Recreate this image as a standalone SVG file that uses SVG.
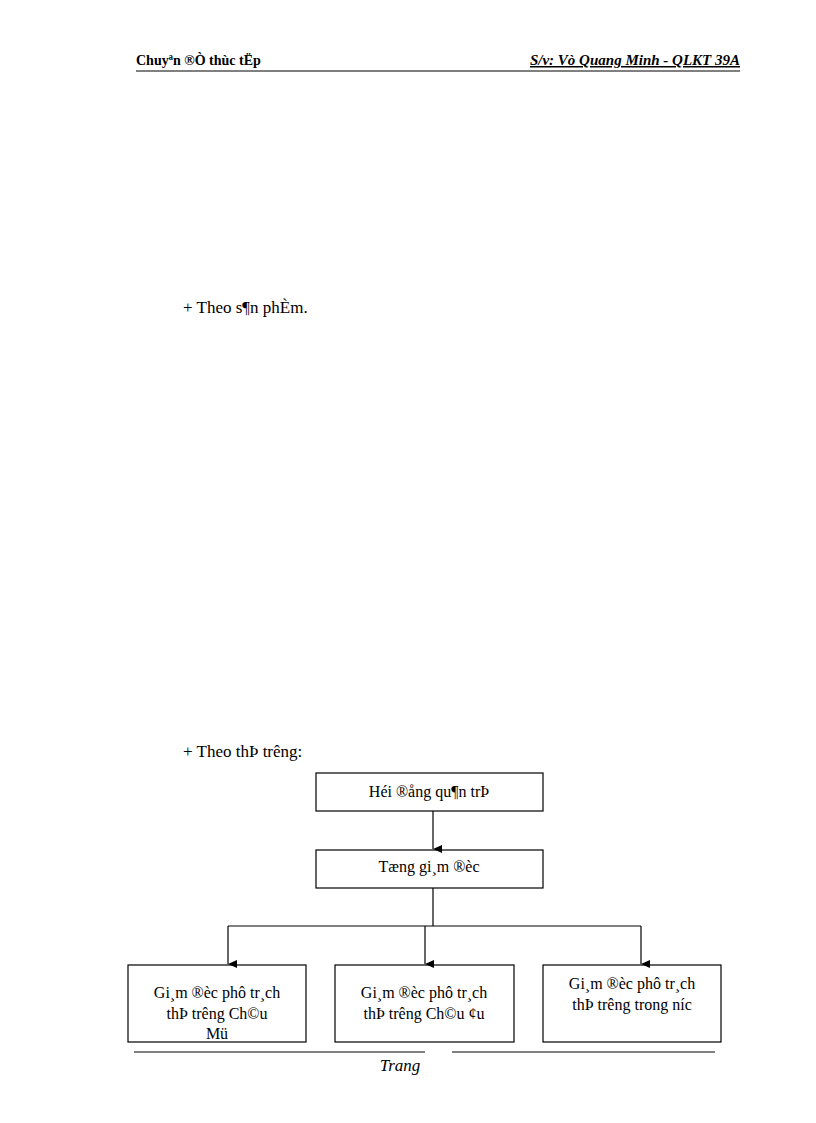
<svg xmlns="http://www.w3.org/2000/svg" width="816" height="1123" viewBox="0 0 816 1123">
<defs><marker id="a" markerWidth="8" markerHeight="10" refX="4" refY="9" orient="auto" markerUnits="userSpaceOnUse"><path d="M0,0 L8,0 L4,9 Z" fill="#000"/></marker>
<style>text{font-family:"Liberation Serif",serif;fill:#000}.b{fill:#fff;stroke:#000;stroke-width:1.2}.t{font-size:16px;text-anchor:middle}.l{stroke:#000;stroke-width:1.2;fill:none}</style></defs>
<rect width="816" height="1123" fill="#fff"/>
<text x="136" y="65" font-size="14" font-weight="bold">Chuyªn ®Ò thùc tËp</text>
<text x="740" y="65" font-size="15" font-weight="bold" font-style="italic" text-anchor="end" text-decoration="underline">S/v: Vò Quang Minh - QLKT 39A</text>
<line x1="136" y1="71" x2="740" y2="71" stroke="#000" stroke-width="1"/>
<text x="183" y="313" font-size="17">+ Theo s¶n phÈm.</text>
<text x="183" y="757" font-size="17">+ Theo thÞ tr­êng:</text>
<g id="n1"><rect class="b" x="316" y="773" width="227" height="38"/><text class="t" x="429" y="797">Héi ®ång qu¶n trÞ</text></g>
<g id="n2"><rect class="b" x="316" y="850" width="227" height="38"/><text class="t" x="429" y="872">Tæng gi¸m ®èc</text></g>
<g id="n3"><rect class="b" x="128" y="965" width="178" height="77"/><text class="t" x="217" y="998">Gi¸m ®èc phô tr¸ch</text><text class="t" x="217" y="1019">thÞ tr­êng  Ch©u</text><text class="t" x="217" y="1039">Mü</text></g>
<g id="n4"><rect class="b" x="335" y="965" width="179" height="77"/><text class="t" x="424" y="998">Gi¸m ®èc phô tr¸ch</text><text class="t" x="424" y="1019">thÞ tr­êng  Ch©u ¢u</text></g>
<g id="n5"><rect class="b" x="543" y="965" width="178" height="77"/><text class="t" x="632" y="989">Gi¸m ®èc phô tr¸ch</text><text class="t" x="632" y="1010">thÞ tr­êng  trong n­íc</text></g>
<g id="connectors">
<line class="l" x1="433" y1="811" x2="433" y2="849" marker-end="url(#a)"/>
<line class="l" x1="433" y1="888" x2="433" y2="926"/>
<line class="l" x1="228" y1="926" x2="641" y2="926"/>
<line class="l" x1="228" y1="926" x2="228" y2="964" marker-end="url(#a)"/>
<line class="l" x1="425" y1="926" x2="425" y2="964" marker-end="url(#a)"/>
<line class="l" x1="641" y1="926" x2="641" y2="964" marker-end="url(#a)"/>
</g>
<line x1="134" y1="1052" x2="425" y2="1052" stroke="#000"/>
<line x1="452" y1="1052" x2="715" y2="1052" stroke="#000"/>
<text x="400" y="1071" font-size="17" font-style="italic" text-anchor="middle">Trang</text>
</svg>
